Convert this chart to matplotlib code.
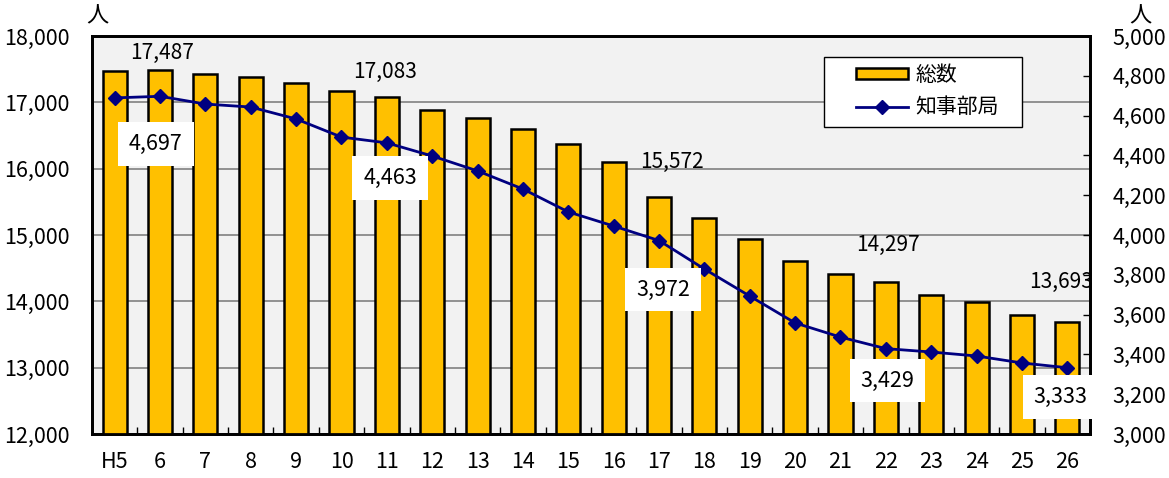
import matplotlib
matplotlib.use('Agg')
import matplotlib.pyplot as plt
from matplotlib.patches import Rectangle
from matplotlib.ticker import FuncFormatter, FixedLocator

plt.rcParams['font.family'] = ['Noto Sans CJK JP', 'DejaVu Sans']

years = ['H5', '6', '7', '8', '9', '10', '11', '12', '13', '14', '15',
         '16', '17', '18', '19', '20', '21', '22', '23', '24', '25', '26']
total = [17472, 17487, 17427, 17382, 17291, 17170, 17083, 16884, 16763, 16597, 16371,
         16100, 15572, 15255, 14938, 14606, 14410, 14297, 14094, 13988, 13792, 13693]
governor = [4689, 4697, 4658, 4643, 4583, 4492, 4463, 4397, 4322, 4231, 4116,
            4045, 3972, 3829, 3693, 3558, 3487, 3429, 3412, 3392, 3357, 3333]

# 値ラベルを付ける位置 (index)
total_label_idx = [1, 6, 12, 17, 21]
gov_label_idx = [1, 6, 12, 17, 21]

fig = plt.figure(figsize=(11.69, 4.78), dpi=100)
ax = fig.add_axes([92/1169, 1 - 434/478, 998/1169, 398/478])
ax2 = ax.twinx()

x = list(range(len(years)))
fmt = FuncFormatter(lambda v, p: f'{int(v):,}')

ax.set_facecolor('#F2F2F2')
ax.bar(x, total, width=0.53, color='#FFC000', edgecolor='black', linewidth=1.8,
       label='総数', zorder=3)
ax.set_ylim(12000, 18000)
ax.set_xlim(-0.5, len(years) - 0.5)
ax.set_yticks(range(12000, 18001, 1000))
ax.yaxis.set_major_formatter(fmt)
ax.grid(axis='y', color='#808080', linewidth=1.2, zorder=0)
ax.set_axisbelow(True)
ax.tick_params(axis='y', length=0, labelsize=15.5, pad=16)
ax.set_xticks(x)
ax.set_xticklabels(years)
ax.tick_params(axis='x', length=0, labelsize=15.5, pad=12)
ax.xaxis.set_minor_locator(FixedLocator([i + 0.5 for i in x[:-1]]))
ax.tick_params(axis='x', which='minor', direction='in', length=5, width=1)
for s in ax.spines.values():
    s.set_linewidth(2)

ax2.plot(x, governor, color='#000080', linewidth=2, marker='D', markersize=7,
         label='知事部局', zorder=4)
ax2.set_ylim(3000, 5000)
ax2.set_yticks(range(3000, 5001, 200))
ax2.yaxis.set_major_formatter(fmt)
ax2.tick_params(axis='y', direction='in', length=5, width=1, labelsize=15.5, pad=16)
for s in ax2.spines.values():
    s.set_linewidth(2)

# 総数ラベル: (x方向ずれ, 上方向オフセット)
total_offsets = {1: (0.05, 256), 6: (-0.05, 377), 12: (0.28, 528), 17: (0.05, 558), 21: (-0.13, 603)}
for i in total_label_idx:
    dx, dy = total_offsets[i]
    ax.text(i + dx, total[i] + dy, f'{total[i]:,}', ha='center', va='center',
            fontsize=15, zorder=5)

gov_offsets = {1: (-0.09, -241), 6: (0.07, -176), 12: (0.09, -246), 17: (0.04, -161), 21: (-0.15, -146)}
for i in gov_label_idx:
    dx, dy = gov_offsets[i]
    ax2.text(i + dx, governor[i] + dy, f'{governor[i]:,}', ha='center', va='center',
             fontsize=15.5, zorder=6,
             bbox=dict(boxstyle='square,pad=0.5', facecolor='white', edgecolor='none'))

fig.text(97/1169, 1 - 16/478, '人', ha='center', va='center', fontsize=16)
fig.text(1140/1169, 1 - 16/478, '人', ha='center', va='center', fontsize=16)

# 凡例枠
ax2.add_patch(Rectangle((0.733, 0.771), 0.199, 0.176, transform=ax2.transAxes,
                        facecolor='white', edgecolor='black', linewidth=1, zorder=7))
h1, l1 = ax.get_legend_handles_labels()
h2, l2 = ax2.get_legend_handles_labels()
leg = ax2.legend(h1 + h2, l1 + l2, loc='upper left', bbox_to_anchor=(0.7655, 0.93),
                 fontsize=15, frameon=False, handlelength=2.5, handleheight=0.4,
                 handletextpad=0.35, borderpad=0, labelspacing=0.5, borderaxespad=0)
leg.set_zorder(8)

fig.savefig('out.png', dpi=100, facecolor='white')
